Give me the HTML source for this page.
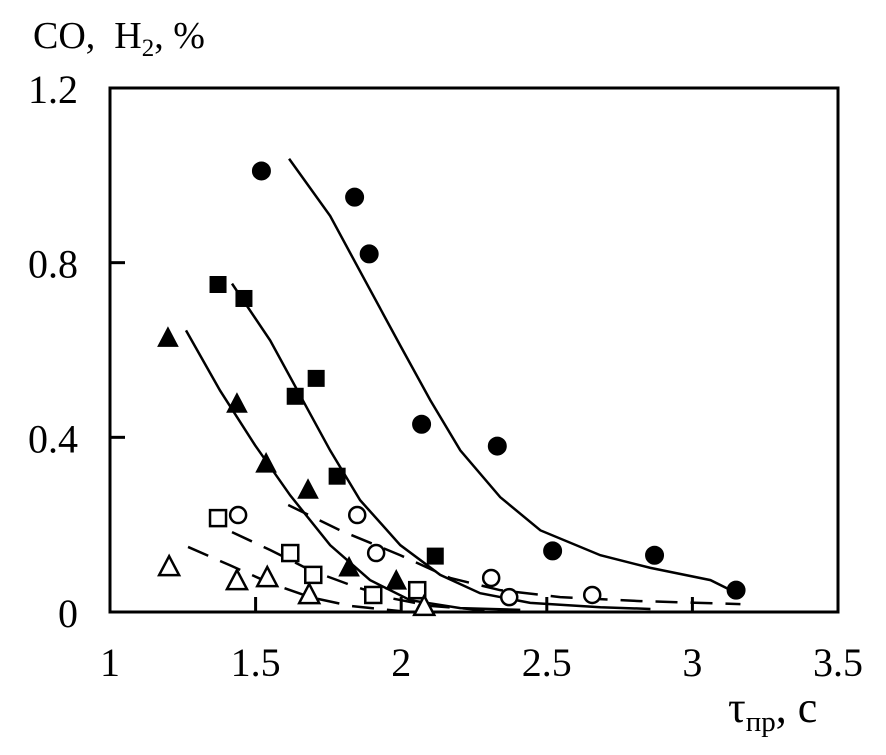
<!DOCTYPE html>
<html><head><meta charset="utf-8"><style>
html,body{margin:0;padding:0;background:#fff;}
svg{display:block;font-family:"Liberation Serif",serif;}
</style></head><body>
<svg id="chart" width="886" height="755" viewBox="0 0 886 755">
<g id="axes"></g>
<g id="series"></g>
<text x="33" y="48" font-size="38">CO,&#160;&#160;H<tspan font-size="25" dy="8">2</tspan><tspan dy="-8">, %</tspan></text>
<text x="728" y="722" font-size="44">τ<tspan font-size="29" dy="9">пр</tspan><tspan dy="-9">, с</tspan></text>
</svg>
<script>
const xTicks=[1,1.5,2,2.5,3,3.5];
const xTickLabels=["1","1.5","2","2.5","3","3.5"];
const yTicks=[0,0.4,0.8,1.2];
const yTickLabels=["0","0.4","0.8","1.2"];
// markers
const fcX=[1.52,1.84,1.89,2.07,2.33,2.52,2.87,3.15];
const fcY=[1.01,0.95,0.82,0.43,0.38,0.14,0.13,0.05];
const fsX=[1.371,1.46,1.636,1.708,1.78,2.117];
const fsY=[0.75,0.718,0.494,0.535,0.311,0.128];
const ftX=[1.199,1.436,1.536,1.68,1.821,1.983];
const ftY=[0.629,0.478,0.341,0.281,0.103,0.073];
const ocX=[1.44,1.849,1.914,2.309,2.371,2.656];
const ocY=[0.222,0.222,0.135,0.078,0.034,0.039];
const osX=[1.371,1.619,1.698,1.904,2.055];
const osY=[0.215,0.135,0.085,0.039,0.05];
const otX=[1.203,1.436,1.54,1.684,2.079];
const otY=[0.105,0.073,0.08,0.041,0.014];
// curves
const cfcX=[1.615,1.756,1.876,1.997,2.1,2.203,2.34,2.478,2.684,2.856,3.062,3.165];
const cfcY=[1.038,0.907,0.759,0.61,0.485,0.37,0.263,0.187,0.13,0.101,0.073,0.039];
const cfsX=[1.419,1.55,1.653,1.756,1.859,1.997,2.134,2.271,2.443,2.684,2.856];
const cfsY=[0.752,0.622,0.496,0.37,0.256,0.153,0.085,0.043,0.021,0.011,0.007];
const cftX=[1.261,1.378,1.498,1.619,1.756,1.893,2.031,2.203,2.409];
const cftY=[0.645,0.507,0.382,0.267,0.153,0.073,0.027,0.009,0.005];
const cocX=[1.612,1.79,1.997,2.168,2.34,2.546,2.821,3.165];
const cocY=[0.245,0.187,0.13,0.078,0.05,0.034,0.025,0.018];
const cosX=[1.419,1.55,1.687,1.825,1.962,2.1,2.271,2.409];
const cosY=[0.183,0.142,0.096,0.062,0.032,0.014,0.005,0.002];
const cotX=[1.268,1.412,1.55,1.687,1.825,1.997];
const cotY=[0.149,0.107,0.066,0.034,0.014,0.002];

const X0=110,X1=838,Y0=612,Y1=88;
const sx=v=>X0+(v-1)/2.5*(X1-X0);
const sy=v=>Y0-v/1.2*(Y0-Y1);
const NS="http://www.w3.org/2000/svg";
function mk(t,a,p){const e=document.createElementNS(NS,t);for(const k in a)e.setAttribute(k,a[k]);p.appendChild(e);return e;}
const ax=document.getElementById('axes'), se=document.getElementById('series');
const box=mk('rect',{x:X0,y:Y1,width:X1-X0,height:Y0-Y1,fill:'none',stroke:'#000','stroke-width':3},ax);


xTicks.forEach((v,i)=>{
  const t=mk('line',{x1:sx(v),x2:sx(v),y1:Y0,y2:Y0-15,stroke:'#000','stroke-width':3},ax);
  
  
  const l=mk('text',{x:sx(v),y:676,'font-size':40,'text-anchor':'middle'},ax);
  l.textContent=xTickLabels[i];
  
  
});
yTicks.forEach((v,i)=>{
  const t=mk('line',{x1:X0,x2:X0+15,y1:sy(v),y2:sy(v),stroke:'#000','stroke-width':3},ax);
  
  
  const l=mk('text',{x:78,y:sy(v)+15,'font-size':40,'text-anchor':'end'},ax);
  l.textContent=yTickLabels[i];
  
  
});
function curve(xs,ys,dash,name){
  const d=xs.map((x,i)=>(i?'L':'M')+sx(x)+','+sy(ys[i])).join(' ');
  const p=mk('path',{d:d,fill:'none',stroke:'#000','stroke-width':2.5},se);
  if(dash)p.setAttribute('stroke-dasharray','22,13');
  
  
}
curve(cfcX,cfcY,false,'fit-line-filled-circle');
curve(cfsX,cfsY,false,'fit-line-filled-square');
curve(cftX,cftY,false,'fit-line-filled-triangle');
curve(cocX,cocY,true,'fit-line-open-circle');
curve(cosX,cosY,true,'fit-line-open-square');
curve(cotX,cotY,true,'fit-line-open-triangle');
function marks(xs,ys,shape,filled,name){
  xs.forEach((x,i)=>{
    const cx=sx(x),cy=sy(ys[i]);let e;
    const st=filled?{fill:'#000',stroke:'#000','stroke-width':1}:{fill:'#fff',stroke:'#000','stroke-width':2.5};
    if(shape==='c') e=mk('circle',Object.assign({cx:cx,cy:cy,r:filled?9:8},st),se);
    else if(shape==='s') e=mk('rect',Object.assign({x:cx-8,y:cy-8,width:16,height:16},st),se);
    else e=mk('polygon',Object.assign({points:`${cx},${cy-10} ${cx-10},${cy+9} ${cx+10},${cy+9}`},st),se);
    
    
  });
}
marks(fcX,fcY,'c',true,'point-filled-circle');
marks(fsX,fsY,'s',true,'point-filled-square');
marks(ftX,ftY,'t',true,'point-filled-triangle');
marks(ocX,ocY,'c',false,'point-open-circle');
marks(osX,osY,'s',false,'point-open-square');
marks(otX,otY,'t',false,'point-open-triangle');
</script>
</body></html>
